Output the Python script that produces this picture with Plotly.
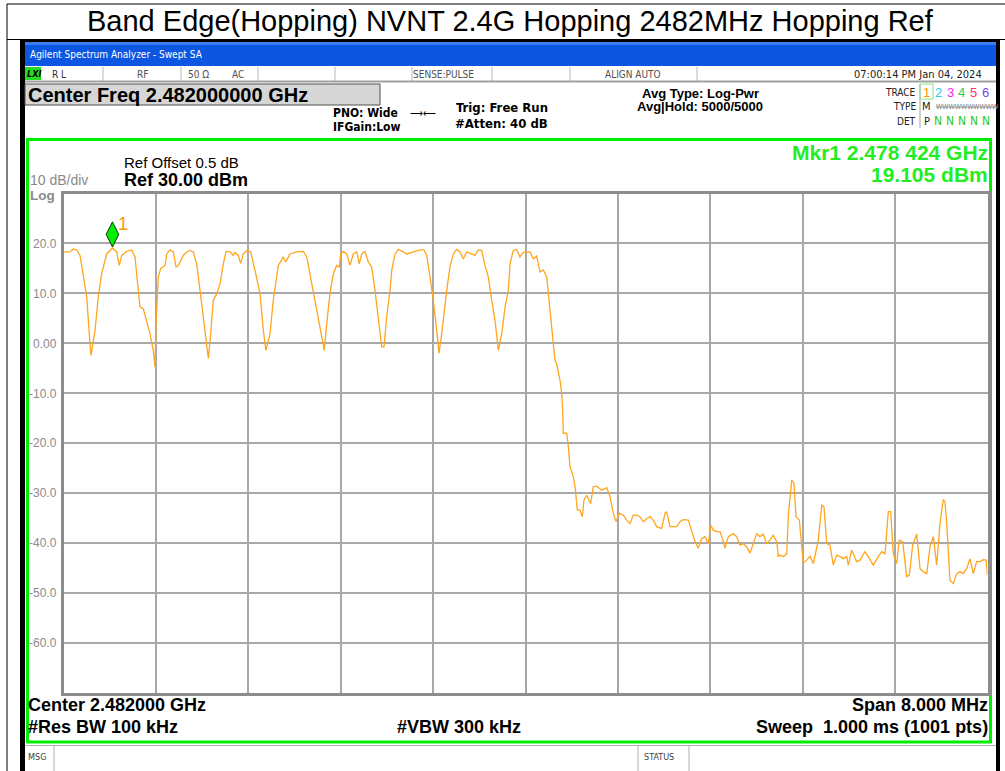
import plotly.graph_objects as go

W, H = 1005, 771

# ---------------- data ----------------
START_MHZ = 2478.0
STOP_MHZ = 2486.0
FREQ_OFFSET_MHZ = [
    0.000, 0.056, 0.085, 0.114, 0.143, 0.171, 0.201, 0.229, 0.238, 0.273,
    0.301, 0.331, 0.374, 0.424, 0.461, 0.483, 0.504, 0.547, 0.590, 0.619,
    0.634, 0.662, 0.691, 0.720, 0.749, 0.777, 0.792, 0.801, 0.821, 0.842,
    0.879, 0.894, 0.922, 0.951, 0.974, 0.994, 1.037, 1.067, 1.095, 1.124,
    1.153, 1.182, 1.210, 1.240, 1.254, 1.274, 1.297, 1.326, 1.355, 1.384,
    1.407, 1.442, 1.470, 1.485, 1.513, 1.534, 1.557, 1.591, 1.621, 1.658,
    1.701, 1.730, 1.753, 1.788, 1.816, 1.860, 1.903, 1.924, 1.961, 2.019,
    2.076, 2.106, 2.134, 2.163, 2.206, 2.235, 2.258, 2.279, 2.307, 2.336,
    2.365, 2.388, 2.400, 2.423, 2.452, 2.481, 2.509, 2.539, 2.561, 2.582,
    2.610, 2.639, 2.668, 2.697, 2.726, 2.755, 2.775, 2.798, 2.827, 2.842,
    2.870, 2.899, 2.942, 2.971, 3.029, 3.087, 3.121, 3.145, 3.173, 3.202,
    3.231, 3.251, 3.274, 3.303, 3.318, 3.346, 3.375, 3.404, 3.433, 3.461,
    3.491, 3.534, 3.563, 3.591, 3.621, 3.649, 3.678, 3.707, 3.736, 3.765,
    3.794, 3.823, 3.851, 3.866, 3.894, 3.924, 3.952, 3.981, 4.039, 4.067,
    4.097, 4.126, 4.154, 4.184, 4.212, 4.241, 4.255, 4.270, 4.299, 4.313,
    4.322, 4.327, 4.357, 4.371, 4.385, 4.414, 4.429, 4.449, 4.472, 4.492,
    4.506, 4.530, 4.564, 4.587, 4.616, 4.660, 4.703, 4.732, 4.760, 4.784,
    4.812, 4.847, 4.876, 4.905, 4.933, 4.963, 4.991, 5.020, 5.049, 5.078,
    5.106, 5.136, 5.179, 5.208, 5.222, 5.251, 5.280, 5.309, 5.338, 5.366,
    5.410, 5.439, 5.468, 5.496, 5.526, 5.554, 5.583, 5.604, 5.626, 5.655,
    5.684, 5.713, 5.727, 5.756, 5.799, 5.829, 5.857, 5.886, 5.915, 5.944,
    5.972, 6.002, 6.030, 6.059, 6.088, 6.117, 6.145, 6.175, 6.189, 6.203,
    6.232, 6.262, 6.275, 6.305, 6.325, 6.342, 6.371, 6.391, 6.405, 6.435,
    6.463, 6.492, 6.535, 6.565, 6.584, 6.608, 6.636, 6.665, 6.694, 6.723,
    6.751, 6.781, 6.795, 6.824, 6.867, 6.896, 6.939, 6.968, 7.011, 7.055,
    7.084, 7.113, 7.141, 7.162, 7.184, 7.214, 7.236, 7.266, 7.300, 7.323,
    7.352, 7.387, 7.416, 7.444, 7.474, 7.502, 7.531, 7.560, 7.589, 7.617,
    7.632, 7.647, 7.675, 7.704, 7.733, 7.762, 7.790, 7.820, 7.848, 7.877,
    7.906, 7.935, 7.964, 7.987, 8.000,
]
LEVEL_DBM = [
    18.3, 18.3, 18.9, 18.7, 17.6, 13.3, 9.3, 0.0, -2.4, 2.6,
    9.3, 14.0, 17.9, 19.1, 18.3, 15.6, 17.6, 18.4, 18.7, 17.3,
    13.9, 7.3, 6.9, 4.6, 1.9, -1.4, -4.7, 3.9, 13.3, 15.0,
    15.6, 17.9, 18.7, 18.3, 15.3, 15.6, 17.6, 18.3, 18.6, 18.3,
    15.9, 10.6, 5.3, 0.0, -3.0, 1.9, 8.6, 9.9, 11.9, 15.9,
    18.4, 18.3, 17.6, 18.2, 17.6, 16.0, 17.9, 18.7, 18.3, 14.6,
    10.0, 2.6, -1.4, 1.9, 8.6, 15.6, 17.3, 16.3, 17.9, 18.3,
    18.4, 17.3, 13.9, 10.6, 5.3, 1.9, -1.4, 3.9, 10.0, 13.9,
    15.6, 15.3, 17.9, 18.4, 17.9, 15.6, 17.9, 18.3, 15.9, 17.9,
    18.4, 16.3, 15.3, 10.6, 5.3, -0.7, -0.7, 5.3, 10.6, 14.6,
    17.9, 18.8, 18.3, 17.9, 18.3, 18.7, 18.7, 17.6, 13.3, 8.6,
    2.6, -2.0, 1.9, 8.6, 10.6, 15.3, 17.9, 18.8, 18.3, 16.9,
    18.3, 17.9, 17.6, 18.7, 18.6, 15.6, 13.3, 8.6, 4.6, -1.4,
    1.9, 7.3, 10.6, 15.9, 18.6, 18.8, 17.3, 18.2, 18.3, 16.9,
    17.5, 14.3, 14.7, 13.3, 6.6, -0.7, -3.4, -4.1, -7.4, -10.0,
    -13.4, -18.0, -18.0, -20.7, -24.7, -26.7, -28.7, -33.4, -33.4, -34.7,
    -31.4, -30.4, -32.1, -28.7, -28.6, -29.4, -28.9, -30.7, -34.0, -35.7,
    -34.0, -34.4, -35.4, -36.1, -34.4, -34.4, -34.7, -35.7, -35.1, -34.7,
    -35.4, -36.7, -37.1, -34.0, -33.7, -36.7, -36.7, -36.7, -35.7, -35.3,
    -35.4, -37.4, -39.7, -41.0, -39.1, -38.7, -40.1, -36.4, -37.4, -37.7,
    -37.7, -39.7, -41.0, -38.7, -38.1, -38.7, -40.4, -40.1, -40.7, -42.0,
    -40.1, -38.1, -38.7, -38.2, -40.1, -39.4, -38.4, -39.7, -42.7, -42.4,
    -42.7, -42.1, -34.7, -27.3, -28.1, -34.7, -35.4, -41.4, -44.0, -43.4,
    -42.6, -44.1, -39.4, -32.4, -32.7, -40.1, -40.4, -44.4, -42.4, -42.7,
    -43.1, -42.7, -44.4, -41.4, -43.7, -43.4, -41.7, -42.7, -44.4, -42.7,
    -41.7, -42.1, -33.7, -33.7, -42.1, -44.1, -39.4, -39.7, -46.7, -46.4,
    -40.4, -38.2, -45.1, -45.7, -46.1, -40.7, -38.7, -44.4, -36.1, -31.3,
    -31.7, -36.1, -47.4, -48.1, -46.1, -45.7, -46.1, -45.1, -43.1, -46.1,
    -43.7, -43.7, -43.3, -43.4, -46.4,
]
MARKER_FREQ_MHZ = 2478.424
MARKER_LEVEL_DBM = 19.105
REF_LEVEL_DBM = 30.0
DB_PER_DIV = 10.0
NUM_DIVS = 10
Y_TICK_VALUES = [20, 10, 0, -10, -20, -30, -40, -50, -60]
Y_TICK_LABELS = ["20.0", "10.0", "0.00", "-10.0", "-20.0", "-30.0", "-40.0", "-50.0", "-60.0"]

TITLE = "Band Edge(Hopping) NVNT 2.4G Hopping 2482MHz Hopping Ref"

freqs = [START_MHZ + f for f in FREQ_OFFSET_MHZ]

# ---------------- helpers (pixel -> paper) ----------------
def px(x):
    return x / W

def py(y):
    return 1 - y / H

shapes = []
annotations = []

def rect(x0, y0, x1, y1, fill=None, line=None, lw=1):
    shapes.append(dict(type="rect", xref="paper", yref="paper",
                       x0=px(x0), x1=px(x1), y0=py(y1), y1=py(y0),
                       fillcolor=fill if fill else "rgba(0,0,0,0)",
                       line=dict(color=line if line else "rgba(0,0,0,0)", width=lw if line else 0),
                       layer="below"))

def seg(x0, y0, x1, y1, color="black", lw=1):
    shapes.append(dict(type="line", xref="paper", yref="paper",
                       x0=px(x0), x1=px(x1), y0=py(y0), y1=py(y1),
                       line=dict(color=color, width=lw), layer="below"))

SANS = "Liberation Sans, Arial, sans-serif"
NARROW = "Liberation Sans Narrow, DejaVu Sans Condensed, Arial, sans-serif"

def text(x, y, s, size, color="black", bold=False, anchor="left", family=SANS):
    annotations.append(dict(xref="paper", yref="paper", x=px(x), y=py(y),
                            text=("<b>%s</b>" % s) if bold else s, showarrow=False,
                            xanchor=anchor, yanchor="middle", borderpad=0,
                            font=dict(size=size, color=color, family=family)))

# ---------------- outer page frame & title ----------------
seg(7, 4, 1005, 4, "black", 1)
seg(7, 4, 7, 771, "black", 1)
seg(7, 39.5, 1005, 39.5, "black", 1)
text(510, 21, TITLE, 29, "black", anchor="center")

# ---------------- analyzer window ----------------
rect(20, 40, 1000, 771, fill="black")
rect(25, 42, 996, 771, fill="white")
rect(25, 42, 996, 66, fill="#0c56e2")
rect(25, 42, 996, 45, fill="#3b7cf0")
text(29, 55, "Agilent Spectrum Analyzer - Swept SA", 10, "white", family=NARROW)

# status row
rect(25, 67, 41, 80, fill="#22dd22")
text(26, 74, "<i>LXI</i>", 9, "black", bold=True, family=NARROW)
for sx in [103, 181, 258, 335, 412, 492, 570, 697]:
    seg(sx, 67, sx, 81, "#b8b8b8", 1)
seg(25, 81.5, 996, 81.5, "#a0a0a0", 2)
text(51, 74, "R L", 10, "#303030", family=NARROW)
text(136, 74, "RF", 10, "#505050", family=NARROW)
text(187, 74, "50 Ω", 10, "#505050", family=NARROW)
text(231, 74, "AC", 10, "#505050", family=NARROW)
text(412, 74, "SENSE:PULSE", 10, "#505050", family=NARROW)
text(604, 74, "ALIGN AUTO", 10, "#505050", family=NARROW)
text(983, 74, "07:00:14 PM Jan 04, 2024", 11, "#202020", anchor="right", family=NARROW)

# info area
rect(25, 84, 380, 105, fill="#d6d6d6", line="#505050", lw=1)
text(27, 94.5, "Center Freq 2.482000000 GHz", 20, "black", bold=True)
text(332, 113, "PNO: Wide", 12, "black", bold=True, family=NARROW)
text(409, 113, "⟶⟵", 9, "black")
text(332, 127, "IFGain:Low", 12, "black", bold=True, family=NARROW)
text(455, 108, "Trig: Free Run", 13, "black", bold=True, family=NARROW)
text(454, 124, "#Atten: 40 dB", 13, "black", bold=True, family=NARROW)
text(700, 93, "Avg Type: Log-Pwr", 13, "black", bold=True, anchor="center")
text(700, 107, "Avg|Hold: 5000/5000", 13, "black", bold=True, anchor="center")

# trace table
seg(920, 84, 920, 128, "#a0a0a0", 1)
rect(920, 84, 933, 99, line="#90e090", lw=1)
text(917, 92, "TRACE", 10, "#202020", anchor="right", family=NARROW)
text(917, 107, "TYPE", 10, "#202020", anchor="right", family=NARROW)
text(917, 121, "DET", 10, "#202020", anchor="right", family=NARROW)
trace_digits = ["1", "2", "3", "4", "5", "6"]
trace_colors = ["#ff9900", "#22ccee", "#ee22ee", "#22cc66", "#ff3366", "#7744ee"]
for i, (d, c) in enumerate(zip(trace_digits, trace_colors)):
    text(926.5 + i * 11.8, 92, d, 13, c, anchor="center")
text(926.5, 107, "M", 11, "#202020", anchor="center", family=NARROW)
text(935, 107, "<s>WWWWWWWWWW</s>", 7, "#808080", family=NARROW)
text(926.5, 121, "P", 11, "#202020", anchor="center", family=NARROW)
for i in range(5):
    text(938.3 + i * 11.8, 121, "N", 12, "#22cc22", anchor="center", family=NARROW)

# green measurement box
rect(27.5, 139.5, 990.5, 742, line="#00ee00", lw=3)
text(123, 162, "Ref Offset 0.5 dB", 15, "black")
text(123, 180, "Ref 30.00 dBm", 18, "black", bold=True)
text(29, 180, "10 dB/div", 14, "#8a8a8a")
text(29, 195, "Log", 13.5, "#8a8a8a", bold=True)
text(989, 153, "Mkr1 2.478 424 GHz", 21, "#22ee22", bold=True, anchor="right")
text(989, 175, "19.105 dBm", 21, "#22ee22", bold=True, anchor="right")

text(27, 705, "Center 2.482000 GHz", 18, "black", bold=True)
text(989, 705, "Span 8.000 MHz", 18, "black", bold=True, anchor="right")
text(27, 727, "#Res BW 100 kHz", 18, "black", bold=True)
text(459, 727, "#VBW 300 kHz", 18, "black", bold=True, anchor="center")
text(989, 727, "Sweep  1.000 ms (1001 pts)", 18, "black", bold=True, anchor="right")

# message row
seg(25, 745.5, 996, 745.5, "#b0b0b0", 1)
for sx in [54, 638, 689]:
    seg(sx, 746, sx, 771, "#b0b0b0", 1)
text(27, 757, "MSG", 9, "#404040", family=NARROW)
text(643, 757, "STATUS", 9, "#404040", family=NARROW)

# ---------------- the spectrum plot ----------------
fig = go.Figure()
fig.add_trace(go.Scatter(x=freqs, y=LEVEL_DBM, mode="lines",
                         line=dict(color="#ffa51e", width=1.3), hoverinfo="skip",
                         showlegend=False))
# marker diamond above the marker point
MARKER_OFFSET_DB = 2.7
fig.add_trace(go.Scatter(x=[MARKER_FREQ_MHZ], y=[MARKER_LEVEL_DBM + MARKER_OFFSET_DB],
                         mode="markers",
                         marker=dict(symbol="diamond-tall", size=18, color="#00ee00",
                                     line=dict(color="#103010", width=1)),
                         hoverinfo="skip", showlegend=False))
annotations.append(dict(xref="x", yref="y", x=MARKER_FREQ_MHZ, y=MARKER_LEVEL_DBM,
                        text="1", showarrow=False, xanchor="center", yanchor="middle",
                        xshift=11, yshift=24,
                        font=dict(size=18, color="#ff9900", family=SANS)))

grid_color = "#a8a8a8"
fig.update_xaxes(range=[START_MHZ, STOP_MHZ], domain=[px(63.5), px(987.5)],
                 tick0=START_MHZ, dtick=(STOP_MHZ - START_MHZ) / NUM_DIVS,
                 showgrid=True, gridcolor=grid_color, gridwidth=1.5,
                 showticklabels=False, ticks="", zeroline=False,
                 showline=True, linecolor="#8c8c8c", linewidth=2.5, mirror=True,
                 fixedrange=True)
fig.update_yaxes(range=[REF_LEVEL_DBM - NUM_DIVS * DB_PER_DIV, REF_LEVEL_DBM],
                 domain=[py(693), py(193.5)],
                 tickvals=Y_TICK_VALUES, ticktext=Y_TICK_LABELS,
                 tickfont=dict(size=12, color="#8c8c8c", family=SANS),
                 showgrid=True, gridcolor=grid_color, gridwidth=1.5,
                 ticks="", zeroline=False, ticklabelstandoff=2,
                 showline=True, linecolor="#8c8c8c", linewidth=2.5, mirror=True,
                 fixedrange=True)

fig.update_layout(width=W, height=H, margin=dict(l=0, r=0, t=0, b=0),
                  paper_bgcolor="white", plot_bgcolor="white",
                  shapes=shapes, annotations=annotations,
                  font=dict(family=SANS), showlegend=False)

fig.write_html("out.html", config={"displayModeBar": False},
               post_script="document.body.style.margin='0';document.body.style.overflow='hidden';")
